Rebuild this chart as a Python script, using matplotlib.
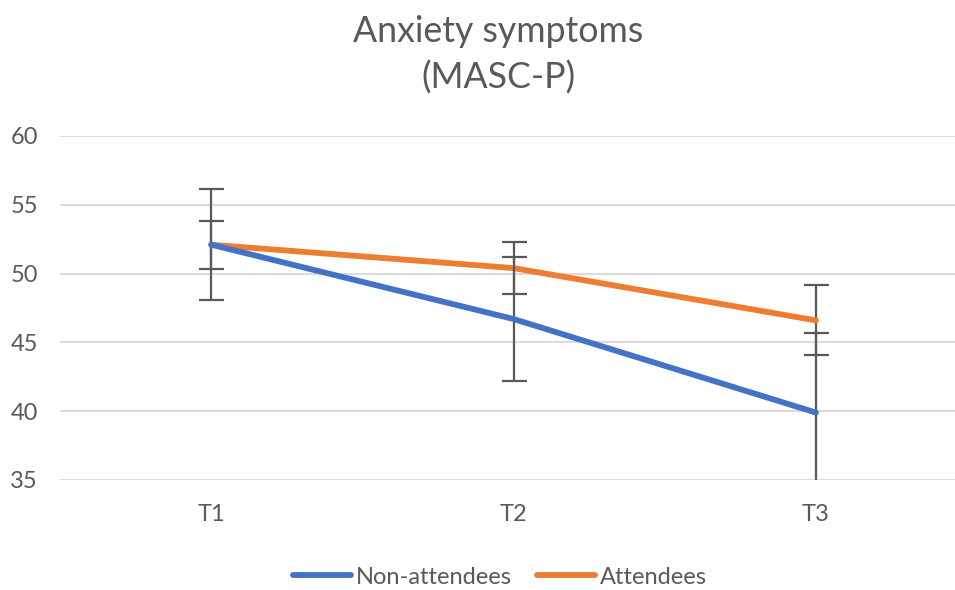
import matplotlib.pyplot as plt

# Data
times = ["T1", "T2", "T3"]
non_attendees = [52.1, 46.7, 39.9]
non_attendees_err = [4.05, 4.5, 5.8]
attendees = [52.1, 50.4, 46.6]
attendees_err = [1.75, 1.9, 2.55]

plt.rcParams['font.family'] = ['Lato', 'DejaVu Sans']
text_color = "#595959"

fig = plt.figure(figsize=(9.55, 5.9), dpi=100)
ax = fig.add_axes([60 / 955, 110 / 590, 895 / 955, 344 / 590])

x = list(range(len(times)))
ax.errorbar(x, non_attendees, yerr=non_attendees_err, color="#4472C4", lw=4.2,
            ecolor="#595959", elinewidth=1.6, capsize=9, capthick=1.6,
            solid_capstyle="round", label="Non-attendees", zorder=3)
ax.errorbar(x, attendees, yerr=attendees_err, color="#ED7D31", lw=4.2,
            ecolor="#595959", elinewidth=1.6, capsize=9, capthick=1.6,
            solid_capstyle="round", label="Attendees", zorder=2)

ax.set_xlim(-0.5, 2.46)
ax.set_ylim(35, 60)
ax.set_yticks(range(35, 61, 5))
ax.set_xticks(x)
ax.set_xticklabels(times)
ax.grid(axis="y", color="#D9D9D9", lw=1.3)
ax.set_axisbelow(True)
for s in ax.spines.values():
    s.set_visible(False)
ax.tick_params(length=0, labelsize=17, colors=text_color)
ax.tick_params(axis="x", pad=17)
ax.tick_params(axis="y", pad=16)

fig.text(498 / 955, 1 - 55 / 590, "Anxiety symptoms\n(MASC-P)", ha="center",
         va="center", fontsize=25.7, color=text_color, linespacing=1.45)

handles, labels = ax.get_legend_handles_labels()
handles = [h[0] for h in handles]
fig.legend(handles, labels, loc="center", bbox_to_anchor=(500 / 955, 1 - 577 / 590),
           ncol=2, frameon=False, fontsize=17, labelcolor=text_color,
           handlelength=2.45, handletextpad=0.2, columnspacing=1.1)

fig.savefig("out.png", dpi=100)
